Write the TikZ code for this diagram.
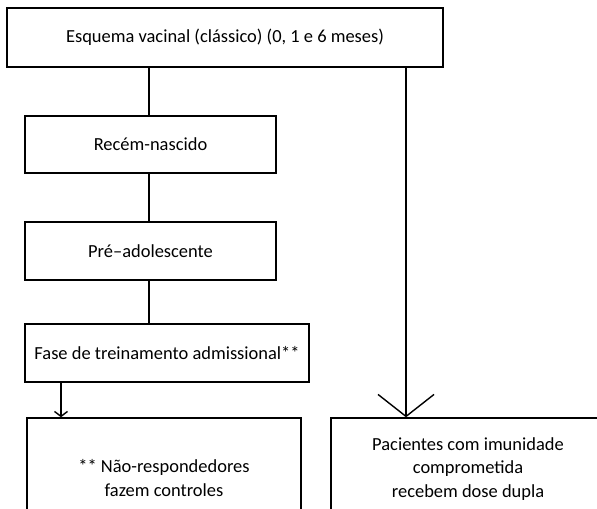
\documentclass[tikz,border=0pt]{standalone}
\usepackage{fontspec}
\setmainfont{Carlito}
\usepackage{tikz}
\usetikzlibrary{arrows.meta}

\begin{document}
\begin{tikzpicture}[
        x=0.02cm, y=-0.02cm,
        every node/.style={
            rectangle,
            draw=black,
            line width=0.8pt,
            align=center,
            inner sep=0pt,
            font=\fontsize{10.5}{13.5}\selectfont
        },
        link/.style={
            line width=0.8pt
        },
        arrow/.style={
            link,
            -{Straight Barb[length=0.1cm, width=0.26cm, line width=0.8pt]}
        },
        widearrow/.style={
            link,
            -{Straight Barb[length=0.44cm, width=1.12cm, line width=0.8pt]}
        }
    ]
        \useasboundingbox (0,0) rectangle (597,508);
        \clip (0,0) rectangle (597,508);

        \node (esq) at (225,37.5) [minimum width=8.72cm, minimum height=1.18cm] {Esquema vacinal (clássico) (0, 1 e 6 meses)};
        \node (rn) at (150.5,144.5) [minimum width=5.02cm, minimum height=1.14cm] {Recém-nascido};
        \node (pre) at (150.5,251) [minimum width=5.02cm, minimum height=1.16cm] {Pré--adolescente};
        \node (fase) at (167,353) [minimum width=5.68cm, minimum height=1.16cm] {Fase de treinamento admissional**};
        \node (nresp) at (164,478) [minimum width=5.48cm, minimum height=2.4cm] {** Não-respondedores\\fazem controles};
        \node (imun) at (468,469) [minimum width=5.48cm, minimum height=2.04cm] {Pacientes com imunidade\\comprometida\\recebem dose dupla};

        \draw[link] (esq.south -| 149,0) -- (rn.north -| 149,0);
        \draw[link] (rn.south -| 149,0) -- (pre.north -| 149,0);
        \draw[link] (pre.south -| 149,0) -- (fase.north -| 149,0);
        \draw[arrow] (fase.south -| 61,0) -- (nresp.north -| 61,0);
        \draw[widearrow] (esq.south -| 406,0) -- (imun.north -| 406,0);
    \end{tikzpicture}
\end{document}
